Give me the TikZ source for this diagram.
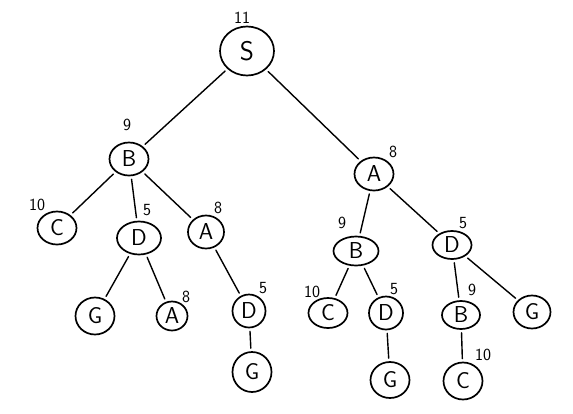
\documentclass[tikz,border=0pt]{standalone}
\usepackage{tikz}
\usetikzlibrary{shapes.geometric}

\begin{document}
\begin{tikzpicture}[x=1pt,y=-1pt,
    state/.style={draw, ellipse, line width=1.7pt, minimum width=39pt, minimum height=33pt,
                  inner sep=0pt, font=\sffamily\fontsize{23}{23}\selectfont},
    cost/.style={font=\sffamily\fontsize{17}{17}\selectfont, inner sep=0pt},
    edge/.style={line width=1.4pt, line cap=round, shorten <=3pt, shorten >=3pt}]
  \useasboundingbox (0,0) rectangle (573,413);
  \node[state, minimum width=54pt, minimum height=49pt, font=\sffamily\fontsize{27}{27}\selectfont] (s) at (247,51) {S};
  \node[state] (b1) at (129,159) {B};
  \node[state] (a1) at (374,174) {A};
  \node[state] (c1) at (57,228) {C};
  \node[state, minimum width=44pt] (d1) at (139,238) {D};
  \node[state, minimum width=36pt] (a2) at (206,232) {A};
  \node[state, minimum height=37pt] (g1) at (95,316) {G};
  \node[state, minimum width=31pt, minimum height=29pt] (a3) at (172,316) {A};
  \node[state, minimum width=33pt] (d2) at (249,311) {D};
  \node[state, minimum height=40pt] (g2) at (252,372) {G};
  \node[state, minimum width=45pt, minimum height=29pt] (b2) at (356,251) {B};
  \node[state, minimum height=28pt] (d3) at (452,245) {D};
  \node[state, minimum height=30pt] (c2) at (328,313) {C};
  \node[state, minimum width=34pt] (d4) at (386,313) {D};
  \node[state, minimum height=36pt] (g3) at (390,380) {G};
  \node[state, minimum width=38pt, minimum height=28pt] (b3) at (461,315) {B};
  \node[state, minimum width=37pt] (g4) at (532,312) {G};
  \node[state, minimum height=37pt] (c3) at (463,381) {C};

  \node[cost] (hs) at (242,18) {11};
  \node[cost] (hb1) at (127,125) {9};
  \node[cost] (ha1) at (393,152) {8};
  \node[cost] (hc1) at (37,205) {10};
  \node[cost] (hd1) at (147,210) {5};
  \node[cost] (ha2) at (218,208) {8};
  \node[cost] (ha3) at (186,297) {8};
  \node[cost] (hd2) at (263,288) {5};
  \node[cost] (hb2) at (342,223) {9};
  \node[cost] (hc2) at (312,292) {10};
  \node[cost] (hd4) at (394,289) {5};
  \node[cost] (hd3) at (463,223) {5};
  \node[cost] (hb3) at (472,290) {9};
  \node[cost] (hc3) at (483,355) {10};

  \draw[edge] (s) -- (b1);
  \draw[edge] (s) -- (a1);
  \draw[edge] (b1) -- (c1);
  \draw[edge] (b1) -- (d1);
  \draw[edge] (b1) -- (a2);
  \draw[edge] (d1) -- (g1);
  \draw[edge] (d1) -- (a3);
  \draw[edge] (a2) -- (d2);
  \draw[edge] (d2) -- (g2);
  \draw[edge] (a1) -- (b2);
  \draw[edge] (a1) -- (d3);
  \draw[edge] (b2) -- (c2);
  \draw[edge] (b2) -- (d4);
  \draw[edge] (d4) -- (g3);
  \draw[edge] (d3) -- (b3);
  \draw[edge] (d3) -- (g4);
  \draw[edge] (b3) -- (c3);
\end{tikzpicture}
\end{document}
